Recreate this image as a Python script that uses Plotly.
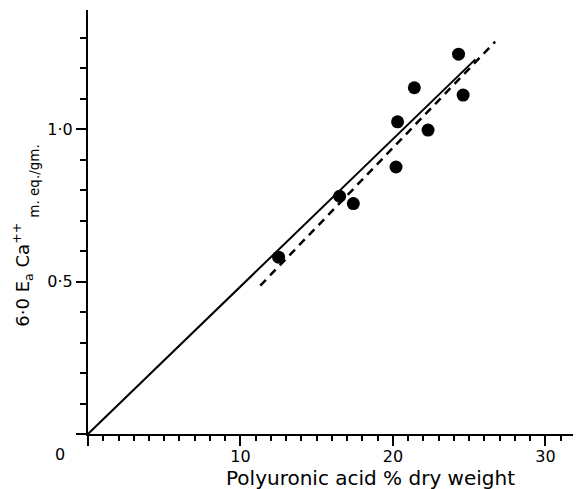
import plotly.graph_objects as go

# Data
polyuronic = [12.5, 16.5, 17.4, 20.3, 20.2, 21.4, 22.3, 24.3, 24.6]
ca_exchange = [0.58, 0.78, 0.756, 1.024, 0.876, 1.136, 0.997, 1.246, 1.112]

solid_x = [0, 25.4]
solid_y = [0, 1.229]
dash_x = [11.3, 26.7]
dash_y = [0.487, 1.287]

x_tickvals = [0, 10, 20, 30]
x_ticktext = ["", "10", "20", "30"]
y_tickvals = [0, 0.5, 1.0]
y_ticktext = ["", "0·5", "1·0"]

FONT = "DejaVu Sans"

fig = go.Figure()
fig.add_trace(go.Scatter(x=solid_x, y=solid_y, mode="lines",
                         line=dict(color="black", width=2), showlegend=False))
fig.add_trace(go.Scatter(x=dash_x, y=dash_y, mode="lines",
                         line=dict(color="black", width=2.5, dash="8px,6px"), showlegend=False))
fig.add_trace(go.Scatter(x=polyuronic, y=ca_exchange, mode="markers",
                         marker=dict(color="black", size=13), showlegend=False))

fig.update_layout(
    width=573, height=481,
    margin=dict(l=80, r=0, t=2, b=55, autoexpand=False),
    paper_bgcolor="white", plot_bgcolor="white",
    font=dict(family=FONT, size=16, color="black"),
    xaxis=dict(range=[0, 32.33], showgrid=False, zeroline=False,
               showline=True, linecolor="black", linewidth=2,
               tickmode="array", tickvals=x_tickvals, ticktext=x_ticktext,
               ticks="outside", ticklen=10, tickwidth=2, tickcolor="black",
               ticklabelstandoff=-3,
               minor=dict(tickmode="linear", tick0=0, dtick=1, ticks="outside",
                          ticklen=5, tickwidth=1.5, tickcolor="black"),
               tickfont=dict(size=16)),
    yaxis=dict(range=[0, 1.391], showgrid=False, zeroline=False,
               showline=True, linecolor="black", linewidth=2,
               tickmode="array", tickvals=y_tickvals, ticktext=y_ticktext,
               ticks="outside", ticklen=10, tickwidth=2, tickcolor="black",
               minor=dict(tickmode="linear", tick0=0, dtick=0.1, ticks="outside",
                          ticklen=6, tickwidth=1.5, tickcolor="black"),
               tickfont=dict(size=16)),
    annotations=[
        dict(text="0", xref="paper", yref="paper", x=-0.0568, y=-0.0473,
             showarrow=False, xanchor="center", yanchor="middle", font=dict(size=16)),
        dict(text="Polyuronic acid % dry weight", xref="paper", yref="paper",
             x=0.5740, y=-0.1040, showarrow=False, xanchor="center", yanchor="middle",
             font=dict(size=20)),
        dict(text="6·0 E<sub>a</sub> Ca<sup>++</sup>", xref="paper", yref="paper",
             x=-0.1340, y=0.3757, showarrow=False, xanchor="center", yanchor="middle",
             textangle=-90, font=dict(size=18)),
        dict(text="m. eq./gm.", xref="paper", yref="paper",
             x=-0.1090, y=0.5957, showarrow=False, xanchor="center", yanchor="middle",
             textangle=-90, font=dict(size=13.5)),
    ],
)

fig.write_html("out.html")
